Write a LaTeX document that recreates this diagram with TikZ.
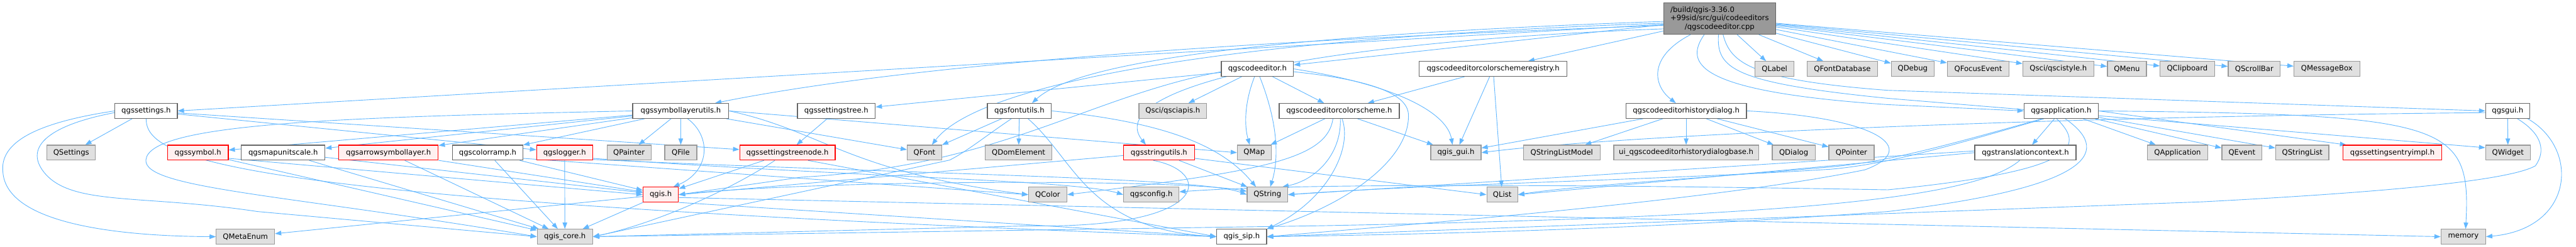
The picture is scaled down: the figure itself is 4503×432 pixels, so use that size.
\documentclass[tikz,border=0pt]{standalone}
\usepackage{fontspec}
\setmainfont{DejaVu Sans}
\usepackage{calc}
\usetikzlibrary{arrows.meta,backgrounds}
\definecolor{ecol}{HTML}{63B8FF}
\definecolor{gfill}{HTML}{E0E0E0}
\definecolor{gdraw}{HTML}{999999}
\definecolor{wdraw}{HTML}{666666}
\definecolor{rfill}{HTML}{FFF0F0}
\definecolor{rootfill}{HTML}{999999}
\newcommand\nf{\fontsize{12.8pt}{15pt}\selectfont}
\begin{document}
\begin{tikzpicture}[x=1pt,y=-1pt,
 base/.style={line width=1.3pt, minimum height=26pt, inner sep=0pt, font=\nf},
 gnode/.style={base, fill=gfill, draw=gdraw},
 wnode/.style={base, fill=white, draw=wdraw},
 rnode/.style={base, fill=rfill, draw=red},
 edge/.style={draw=ecol, line width=1pt, -{Triangle[length=11pt,width=8pt]}}]
\useasboundingbox (0,0) rectangle (4503,432);
% root
\node[base, fill=rootfill, draw=wdraw, minimum width=196pt, minimum height=55pt, align=center] (root) at (3006,32.5)
 {\makebox[\widthof{+99sid/src/gui/codeeditors}][l]{/build/qgis-3.36.0}\\+99sid/src/gui/codeeditors\\/qgscodeeditor.cpp};
% row 1
\node[wnode, minimum width=126pt] (cedit) at (2198,120.5) {qgscodeeditor.h};
\node[wnode, minimum width=258pt] (creg) at (2610,120.5) {qgscodeeditorcolorschemeregistry.h};
\node[gnode, minimum width=68pt] (qlabel) at (3102,120.5) {QLabel};
\node[gnode, minimum width=123pt] (qfontdb) at (3220.5,120.5) {QFontDatabase};
\node[gnode, minimum width=75pt] (qdebug) at (3343.5,120.5) {QDebug};
\node[gnode, minimum width=108pt] (qfocus) at (3458,120.5) {QFocusEvent};
\node[gnode, minimum width=124pt] (qscistyle) at (3598,120.5) {Qsci/qscistyle.h};
\node[gnode, minimum width=68pt] (qmenu) at (3718,120.5) {QMenu};
\node[gnode, minimum width=95pt] (qclip) at (3823.5,120.5) {QClipboard};
\node[gnode, minimum width=91pt] (qscroll) at (3940.5,120.5) {QScrollBar};
\node[gnode, minimum width=115pt] (qmsg) at (4067.5,120.5) {QMessageBox};
% row 2
\node[wnode, minimum width=109pt] (settings) at (255.5,194) {qgssettings.h};
\node[wnode, minimum width=168pt] (symlay) at (1190,194) {qgssymbollayerutils.h};
\node[wnode, minimum width=136pt] (stree) at (1462,194) {qgssettingstree.h};
\node[wnode, minimum width=112pt] (fontutils) at (1782,194) {qgsfontutils.h};
\node[gnode, minimum width=118pt] (qsciapis) at (2050,194) {Qsci/qsciapis.h};
\node[wnode, minimum width=210pt] (cscheme) at (2341,194) {qgscodeeditorcolorscheme.h};
\node[wnode, minimum width=211pt] (histdlg) at (2947.5,194) {qgscodeeditorhistorydialog.h};
\node[wnode, minimum width=130pt] (app) at (3603,194) {qgsapplication.h};
\node[wnode, minimum width=77pt] (gui) at (4383.5,194) {qgsgui.h};
% row 3
\node[gnode, minimum width=85pt] (qsettings) at (124.5,267) {QSettings};
\node[rnode, minimum width=106pt] (symbol) at (346,267) {qgssymbol.h};
\node[wnode, minimum width=146pt] (mapunit) at (495,267) {qgsmapunitscale.h};
\node[rnode, minimum width=174pt] (arrowsl) at (679,267) {qgsarrowsymbollayer.h};
\node[wnode, minimum width=123pt] (cramp) at (852.5,267) {qgscolorramp.h};
\node[rnode, minimum width=98pt] (logger) at (987,267) {qgslogger.h};
\node[gnode, minimum width=77pt] (qpainter) at (1099.5,267) {QPainter};
\node[gnode, minimum width=56pt] (qfile) at (1190,267) {QFile};
\node[rnode, minimum width=167pt] (streenode) at (1376.5,267) {qgssettingstreenode.h};
\node[gnode, minimum width=60pt] (qfont) at (1616,267) {QFont};
\node[gnode, minimum width=117pt] (qdom) at (1780.5,267) {QDomElement};
\node[rnode, minimum width=124pt] (strutils) at (2026,267) {qgsstringutils.h};
\node[gnode, minimum width=59pt] (qmap) at (2192.5,267) {QMap};
\node[gnode, minimum width=88pt] (qgisgui) at (2545,267) {qgis\_gui.h};
\node[gnode, minimum width=134pt] (qslm) at (2730,267) {QStringListModel};
\node[gnode, minimum width=253pt] (ui) at (2947.5,267) {ui\_qgscodeeditorhistorydialogbase.h};
\node[gnode, minimum width=75pt] (qdialog) at (3135.5,267) {QDialog};
\node[gnode, minimum width=79pt] (qpointer) at (3236.5,267) {QPointer};
\node[wnode, minimum width=177pt] (trans) at (3540.5,267) {qgstranslationcontext.h};
\node[gnode, minimum width=105pt] (qapp) at (3806.5,267) {QApplication};
\node[gnode, minimum width=70pt] (qevent) at (3919,267) {QEvent};
\node[gnode, minimum width=93pt] (qstrlist) at (4024.5,267) {QStringList};
\node[rnode, minimum width=172pt] (entry) at (4182,267) {qgssettingsentryimpl.h};
\node[gnode, minimum width=78pt] (qwidget) at (4384,267) {QWidget};
% row 4
\node[rnode, minimum width=62pt] (qgis) at (1155,340.5) {qgis.h};
\node[gnode, minimum width=67pt] (qcolor) at (1831.5,340.5) {QColor};
\node[gnode, minimum width=97pt] (qgsconfig) at (2012.5,340.5) {qgsconfig.h};
\node[gnode, minimum width=71pt] (qstring) at (2215.5,340.5) {QString};
\node[gnode, minimum width=54pt] (qlist) at (2626,340.5) {QList};
% row 5
\node[gnode, minimum width=102pt] (qmetaenum) at (429,414) {QMetaEnum};
\node[gnode, minimum width=97pt] (core) at (987.5,414) {qgis\_core.h};
\node[wnode, minimum width=87pt] (sip) at (2170.5,414) {qgis\_sip.h};
\node[gnode, minimum width=78pt] (memory) at (4306,414) {memory};

\begin{scope}[on background layer]
\fill[white] (0,0) rectangle (4503,432);
% root
\draw[edge] ([yshift=-10pt]root.west) -- (settings.east);
\draw[edge] ([yshift=-12pt]root.west) .. controls (2200,70) and (1600,110) .. ([xshift=60]symlay.north);
\draw[edge] ([yshift=-5pt]root.west) .. controls (2200,62) and (1880,110) .. ([xshift=22]fontutils.north);
\draw[edge] ([yshift=-8pt]root.west) .. controls (2050,70) and (1700,160) .. ([xshift=13]qfont.north);
\draw[edge] ([yshift=-18pt]root.west) .. controls (2250,75) and (1930,160) .. ([xshift=-23]strutils.north);
\draw[edge] (root) -- (cedit);
\draw[edge] (root) -- (creg);
\draw[edge] ([xshift=-51]root.south) .. controls (2880,100) and (2890,150) .. ([xshift=-18]histdlg.north);
\draw[edge] ([xshift=-27]root.south) .. controls (2945,110) and (2960,160) .. (3300,183) -- (app.west);
\draw[edge] ([xshift=-2]root.south) .. controls (3000,120) and (3030,145) .. (3300,172) -- ([yshift=-5pt]qwidget.north west);
\draw[edge] ([xshift=6]root.south) .. controls (3025,110) and (3060,140) .. (3300,158) -- (gui.west);
\foreach \t in {qlabel,qfontdb,qdebug,qfocus,qscistyle,qmenu,qclip,qscroll,qmsg}
  \draw[edge] (root) -- (\t);
% settings
\draw[edge] (settings) -- (qsettings);
\draw[edge] (settings.west) .. controls (60,215) and (0,250) .. (5,300) .. controls (10,390) and (200,413) .. (qmetaenum.west);
\draw[edge] ([yshift=-3pt]settings.west) .. controls (80,220) and (40,260) .. (80,305) .. controls (130,360) and (250,340) .. (450,370) -- (core.west);
\draw[edge] (settings.south) .. controls (255,280) and (400,350) .. (sip.west);
\draw[edge] (settings) -- (logger);
\draw[edge] (settings) -- (streenode);
% symbollayerutils
\draw[edge] (symlay) -- (symbol);
\draw[edge] (symlay) -- (mapunit);
\draw[edge] (symlay) -- (arrowsl);
\draw[edge] (symlay) -- (cramp);
\draw[edge] (symlay) -- (qpainter);
\draw[edge] (symlay) -- (qfile);
\draw[edge] ([xshift=12]symlay.south) .. controls (1245,240) and (1240,300) .. ([xshift=22]qgis.north);
\draw[edge] (symlay) -- (qfont);
\draw[edge] (symlay.east) -- (qmap.west);
\draw[edge] (symlay.east) .. controls (1440,230) and (1480,300) .. (qcolor.west);
\draw[edge] (symlay.west) .. controls (600,205) and (260,215) .. (255,280) .. controls (252,330) and (500,340) .. (core.west);
% row 3 core headers
\draw[edge] ([yshift=-10pt]symbol.east) -- (qgis.west);
\draw[edge] (symbol) -- (core);
\draw[edge] (mapunit) -- (core);
\draw[edge] (mapunit) -- (qgis);
\draw[edge] (arrowsl) -- (core);
\draw[edge] (arrowsl) -- (qgis);
\draw[edge] (cramp) -- (core);
\draw[edge] (cramp) -- (qgis);
\draw[edge] ([yshift=-10pt]cramp.east) -- (qcolor.west);
\draw[edge] (logger) -- (core);
\draw[edge] ([yshift=-10pt]logger.east) .. controls (1500,310) and (1880,315) .. (qgsconfig.west);
\draw[edge] ([yshift=-12pt]logger.east) .. controls (1600,305) and (2100,310) .. (qstring.west);
\draw[edge] (streenode) -- (qgis);
\draw[edge] ([xshift=-22]streenode.south) .. controls (1280,330) and (1150,390) .. (core.east);
\draw[edge] ([xshift=-48]streenode.south east) -- (sip.west);
\draw[edge] (stree) -- (streenode);
% fontutils
\draw[edge] (fontutils) -- (qfont);
\draw[edge] (fontutils) -- (qdom);
\draw[edge] ([xshift=15]fontutils.south) .. controls (1880,280) and (1900,400) .. (sip.west);
\draw[edge] (fontutils.east) .. controls (2050,215) and (2140,260) .. ([xshift=-20]qstring.north);
\draw[edge] ([xshift=-14]fontutils.south) .. controls (1720,240) and (1690,265) .. (1660,280) -- (core.east);
% codeeditor.h
\draw[edge] (cedit) -- (qsciapis);
\draw[edge] (cedit) -- (cscheme);
\draw[edge] (cedit) -- (stree);
\draw[edge] ([yshift=-5pt]cedit.west) .. controls (1900,170) and (1750,290) .. (1400,310) -- (qgis.east);
\draw[edge] ([xshift=-5]cedit.south) .. controls (2175,180) and (2175,220) .. ([xshift=-8]qmap.north);
\draw[edge] ([xshift=4]cedit.south) .. controls (2240,230) and (2232,290) .. ([xshift=5]qstring.north);
\draw[edge] (cedit.east) .. controls (2450,150) and (2530,200) .. ([xshift=-6]qgisgui.north);
\draw[edge] ([yshift=-5pt]cedit.east) .. controls (2400,140) and (2460,165) .. (2462,200) .. controls (2465,280) and (2350,360) .. (sip.north east);
% registry
\draw[edge] (creg) -- (cscheme);
\draw[edge] (creg) -- (qgisgui);
\draw[edge] (creg) -- (qlist);
% colour scheme
\draw[edge] ([xshift=-25]cscheme.south) -- (qmap);
\draw[edge] ([xshift=-11]cscheme.south) .. controls (2320,280) and (2200,300) .. (qcolor.east);
\draw[edge] ([xshift=2]cscheme.south) .. controls (2345,270) and (2300,315) .. ([xshift=-10]qstring.north east);
\draw[edge] ([xshift=5]cscheme.south) .. controls (2365,260) and (2320,350) .. (sip.north east);
\draw[edge] ([xshift=32]cscheme.south) -- ([xshift=5]qgisgui.north west);
% history dialog
\draw[edge] (histdlg) -- (qgisgui);
\draw[edge] (histdlg) -- (qslm);
\draw[edge] (histdlg) -- (ui);
\draw[edge] (histdlg) -- (qdialog);
\draw[edge] (histdlg) -- (qpointer);
\draw[edge] (histdlg.east) .. controls (3280,205) and (3360,260) .. (3260,297) .. controls (3000,350) and (2500,390) .. (sip.east);
% application
\draw[edge] (app) -- (trans);
\draw[edge] (app) -- (qapp);
\draw[edge] (app) -- (qevent);
\draw[edge] (app) -- (qstrlist);
\draw[edge] (app.east) -- ([xshift=6]entry.north west);
\draw[edge] (app.east) .. controls (4280,200) and (4320,215) .. ([xshift=4]memory.north);
\draw[edge] ([xshift=-33]app.south) .. controls (3400,255) and (3300,283) .. (3200,292) .. controls (3000,310) and (2750,325) .. (qlist.east);
\draw[edge] ([xshift=-30]app.south) .. controls (3400,258) and (3300,287) .. (3200,296) .. controls (2900,315) and (2500,322) .. (qstring.east);
\draw[edge] ([xshift=-8]app.south) .. controls (3650,260) and (3620,300) .. (3300,332) .. controls (2900,325) and (2300,318) .. ([yshift=5pt]qgsconfig.east);
\draw[edge] ([xshift=7]app.south) .. controls (3700,270) and (3640,330) .. (3300,370) .. controls (2900,400) and (2500,410) .. (sip.east);
% translation context
\draw[edge] (trans.west) -- (qlist.east);
\draw[edge] ([yshift=3pt]trans.west) -- (qstring.east);
\draw[edge] ([xshift=-10]trans.south) .. controls (3450,350) and (3100,380) .. (2300,395) -- (core.east);
% gui
\draw[edge] (gui) -- (qwidget);
\draw[edge] ([yshift=-3pt]gui.west) .. controls (3500,205) and (2800,240) .. (qgisgui.east);
\draw[edge] ([xshift=17]gui.south) .. controls (4445,235) and (4450,265) .. (4432,290) .. controls (4380,320) and (4100,340) .. (3850,353) -- (sip.east);
\draw[edge] ([xshift=35]gui.south) .. controls (4510,260) and (4500,400) .. (memory.east);
% qgis.h
\draw[edge] (qgis) -- (qmetaenum);
\draw[edge] (qgis) -- (core);
\draw[edge] (qgis.south east) -- (sip.west);
\draw[edge] (qgis.east) .. controls (1400,315) and (2050,312) .. ([yshift=6pt]qstring.west);
\draw[edge] ([yshift=-5pt]qgis.east) -- (memory.west);
% stringutils
\draw[edge] (strutils) -- (qstring);
\draw[edge] ([yshift=-10pt]strutils.east) -- (qlist.west);
\draw[edge] ([yshift=-5pt]strutils.west) -- (qgis.east);
\draw[edge] ([xshift=-10]strutils.south) .. controls (2120,300) and (2120,400) .. (1800,395) -- (core.east);
\end{scope}
\end{tikzpicture}
\end{document}
